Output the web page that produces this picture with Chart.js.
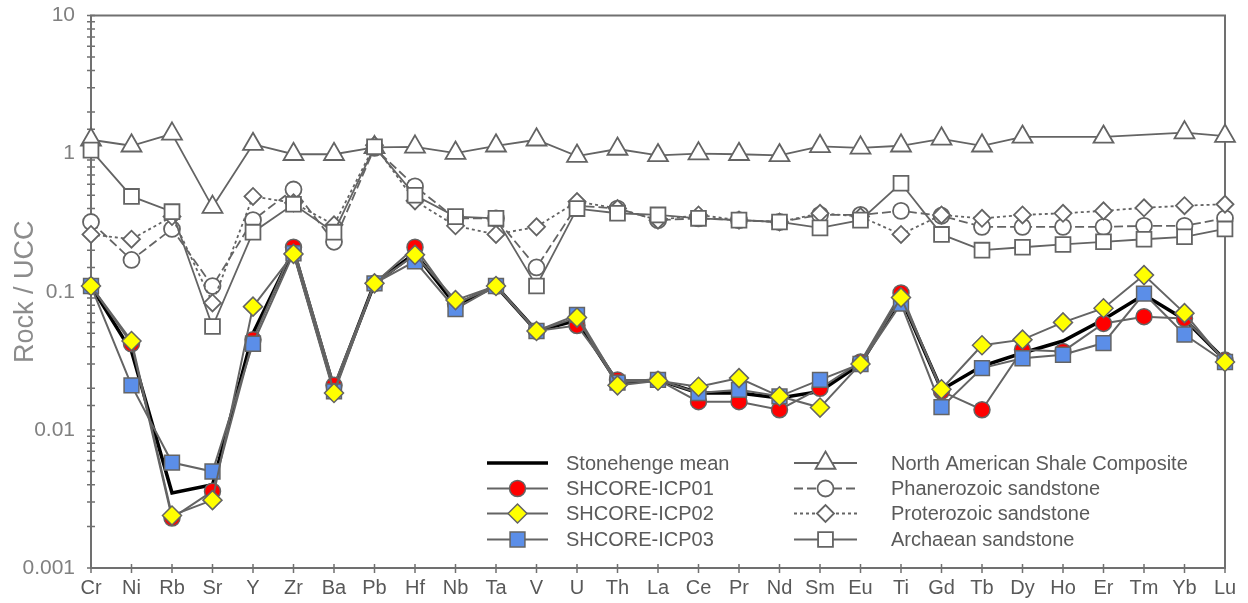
<!DOCTYPE html>
<html>
<head>
<meta charset="utf-8">
<title>Rock / UCC</title>
<script src="https://cdn.jsdelivr.net/npm/chart.js@4.4.1/dist/chart.umd.min.js"></script>
<style>
    html, body { margin: 0; padding: 0; background: #fff; }
    #wrap { width: 1248px; height: 603px; position: relative; }
</style>
</head>
<body>
<div id="wrap"><canvas id="myChart"></canvas></div>
<script>
// element order along the x axis
const elements = ['Cr','Ni','Rb','Sr','Y','Zr','Ba','Pb','Hf','Nb','Ta','V','U','Th','La','Ce','Pr','Nd','Sm','Eu','Ti','Gd','Tb','Dy','Ho','Er','Tm','Yb','Lu'];

// y axis labelled decades
const yTickLabels = [0.001, 0.01, 0.1, 1, 10];

// samples (normalised to UCC)
const stonehengeMean = [0.11, 0.037, 0.0035, 0.0040, 0.050, 0.20, 0.020, 0.115, 0.19, 0.080, 0.11, 0.052, 0.062, 0.022, 0.023, 0.0185, 0.0185, 0.0170, 0.019, 0.030, 0.090, 0.0195, 0.029, 0.036, 0.044, 0.063, 0.095, 0.063, 0.032];
const shcoreIcp01 = [0.11, 0.042, 0.0023, 0.0036, 0.045, 0.21, 0.021, 0.115, 0.21, 0.082, 0.11, 0.052, 0.057, 0.023, 0.023, 0.016, 0.016, 0.014, 0.020, 0.031, 0.098, 0.019, 0.014, 0.038, 0.037, 0.059, 0.066, 0.064, 0.032];
const shcoreIcp02 = [0.11, 0.044, 0.0024, 0.0031, 0.078, 0.188, 0.0185, 0.115, 0.185, 0.087, 0.11, 0.052, 0.065, 0.021, 0.0227, 0.0205, 0.0237, 0.0175, 0.0145, 0.030, 0.091, 0.0197, 0.041, 0.045, 0.060, 0.076, 0.132, 0.070, 0.031];
const shcoreIcp03 = [0.11, 0.021, 0.0058, 0.0050, 0.042, 0.19, 0.019, 0.115, 0.166, 0.075, 0.11, 0.052, 0.068, 0.022, 0.023, 0.0185, 0.0195, 0.0175, 0.023, 0.030, 0.082, 0.0146, 0.028, 0.033, 0.035, 0.0425, 0.097, 0.049, 0.031];

// reference compositions
const nasc = [1.26, 1.14, 1.39, 0.41, 1.17, 0.99, 0.99, 1.11, 1.12, 1.01, 1.14, 1.26, 0.96, 1.08, 0.97, 1.00, 0.99, 0.97, 1.13, 1.10, 1.14, 1.28, 1.14, 1.32, null, 1.32, null, 1.42, 1.34];
const phanerozoic = [0.32, 0.17, 0.285, 0.11, 0.33, 0.55, 0.23, 1.10, 0.58, 0.34, 0.34, 0.15, 0.42, 0.40, 0.33, 0.34, 0.33, 0.32, 0.36, 0.36, 0.385, 0.355, 0.295, 0.295, 0.295, 0.295, 0.30, 0.30, 0.34];
const proterozoic = [0.26, 0.24, 0.35, 0.083, 0.49, 0.44, 0.305, 1.15, 0.455, 0.30, 0.26, 0.295, 0.45, 0.40, 0.33, 0.36, 0.33, 0.32, 0.37, 0.35, 0.26, 0.36, 0.34, 0.36, 0.37, 0.385, 0.405, 0.42, 0.43];
const archaean = [1.06, 0.49, 0.38, 0.056, 0.27, 0.43, 0.27, 1.12, 0.50, 0.35, 0.34, 0.11, 0.40, 0.37, 0.36, 0.34, 0.33, 0.32, 0.29, 0.33, 0.61, 0.26, 0.20, 0.21, 0.22, 0.23, 0.24, 0.25, 0.285];

const FONT = '"Liberation Sans", Arial, sans-serif';
const GREY = '#707070';
const LINE = '#646464';

// custom legend, two columns inside the plot area
const legendBox = {
    id: 'legendBox',
    afterDraw(chart) {
        const ctx = chart.ctx;
        const cols = [
            { line: [487, 548], text: 566, labels: ['Stonehenge mean','SHCORE-ICP01','SHCORE-ICP02','SHCORE-ICP03'] },
            { line: [794, 857], text: 891, labels: ['North American Shale Composite','Phanerozoic sandstone','Proterozoic sandstone','Archaean sandstone'] }
        ];
        const rows = [463, 488.5, 513.5, 539.5];
        ctx.save();
        ctx.font = '20px ' + FONT;
        ctx.textBaseline = 'middle';
        cols.forEach((col) => {
            col.labels.forEach((label, r) => {
                const ds = chart.data.datasets.find(d => d.label === label);
                const y = rows[r];
                ctx.strokeStyle = ds.borderColor;
                ctx.lineWidth = ds.borderWidth;
                ctx.setLineDash(ds.borderDash || []);
                ctx.beginPath();
                ctx.moveTo(col.line[0], y);
                ctx.lineTo(col.line[1], y);
                ctx.stroke();
                ctx.setLineDash([]);
                if (ds.pointRadius > 0) {
                    ctx.fillStyle = ds.pointBackgroundColor;
                    ctx.strokeStyle = ds.pointBorderColor;
                    ctx.lineWidth = ds.pointBorderWidth;
                    Chart.helpers.drawPoint(ctx, {
                        pointStyle: ds.pointStyle,
                        radius: ds.pointRadius,
                        rotation: 0,
                        borderWidth: ds.pointBorderWidth
                    }, (col.line[0] + col.line[1]) / 2, y);
                }
                ctx.fillStyle = '#5a5a5a';
                ctx.fillText(label, col.text, y + 1);
            })
        });
        ctx.restore();
    }
};

// frame and tick marks crossing the axes
const frame = {
    id: 'frame',
    beforeDatasetsDraw(chart) {
        const { ctx, chartArea: a, scales } = chart;
        ctx.save();
        ctx.strokeStyle = GREY;
        ctx.lineWidth = 2;
        ctx.strokeRect(a.left, a.top, a.right - a.left, a.bottom - a.top);
        ctx.lineWidth = 1.5;
        ctx.beginPath();
        scales.x.ticks.forEach((t, i) => {
            const x = scales.x.getPixelForTick(i);
            ctx.moveTo(x, a.bottom - 4);
            ctx.lineTo(x, a.bottom + 5);
        });
        scales.y.ticks.forEach((t) => {
            const y = scales.y.getPixelForValue(t.value);
            ctx.moveTo(a.left - 4, y);
            ctx.lineTo(a.left + 4, y);
        });
        ctx.stroke();
        ctx.restore();
    }
};

function sample(label, data, order, style, fill, radius) {
    return {
        label: label,
        data: data,
        order: order,
        borderColor: LINE,
        borderWidth: 2,
        pointStyle: style,
        pointRadius: radius,
        pointHoverRadius: radius,
        pointBackgroundColor: fill,
        pointBorderColor: LINE,
        pointBorderWidth: 1.5,
        tension: 0
    };
}

function reference(label, data, order, style, dash, radius) {
    return {
        label: label,
        data: data,
        order: order,
        borderColor: LINE,
        borderWidth: 1.8,
        borderDash: dash,
        pointStyle: style,
        pointRadius: radius,
        pointHoverRadius: radius,
        pointBackgroundColor: '#ffffff',
        pointBorderColor: LINE,
        pointBorderWidth: 1.8,
        spanGaps: true,
        tension: 0
    };
}

const datasets = [
    sample('SHCORE-ICP02', shcoreIcp02, 1, 'rectRot', '#ffff00', 9.5),
    sample('SHCORE-ICP03', shcoreIcp03, 2, 'rect', '#5b8ee8', 10.5),
    sample('SHCORE-ICP01', shcoreIcp01, 3, 'circle', '#ff0000', 8),
    {
        label: 'Stonehenge mean',
        data: stonehengeMean,
        order: 4,
        borderColor: '#000000',
        borderWidth: 3.5,
        pointRadius: 0,
        tension: 0
    },
    reference('Archaean sandstone', archaean, 5, 'rect', [], 10.5),
    reference('Proterozoic sandstone', proterozoic, 6, 'rectRot', [3, 3], 8.5),
    reference('Phanerozoic sandstone', phanerozoic, 7, 'circle', [9, 4], 8),
    reference('North American Shale Composite', nasc, 8, 'triangle', [], 11.5)
];

const ctx = document.getElementById('myChart').getContext('2d');
new Chart(ctx, {
    type: 'line',
    data: { labels: elements, datasets: datasets },
    options: {
        responsive: true,
        maintainAspectRatio: false,
        animation: false,
        layout: { padding: { top: 15.5, right: 23, left: 0, bottom: 0 } },
        plugins: {
            legend: { display: false },
            tooltip: { enabled: false }
        },
        scales: {
            x: {
                type: 'category',
                offset: false,
                grid: { display: false, drawTicks: false },
                border: { display: false },
                ticks: {
                    autoSkip: false,
                    maxRotation: 0,
                    padding: 8,
                    color: '#595959',
                    font: { family: FONT, size: 20 }
                },
                afterFit(scale) {
                    scale.height = 35;
                    scale.paddingLeft = 0;
                    scale.paddingRight = 0;
                }
            },
            y: {
                type: 'logarithmic',
                min: 0.001,
                max: 10,
                grid: { display: false, drawTicks: false },
                border: { display: false },
                title: {
                    display: true,
                    text: 'Rock / UCC',
                    color: '#8c8c8c',
                    padding: { top: 9, bottom: 0 },
                    font: { family: FONT, size: 27 }
                },
                ticks: {
                    autoSkip: false,
                    padding: 16,
                    color: '#808080',
                    font: { family: FONT, size: 21 },
                    callback(v) {
                        const hit = yTickLabels.find(t => Math.abs(Math.log10(t) - Math.log10(v)) < 1e-6);
                        return hit === undefined ? '' : String(hit);
                    }
                },
                afterFit(scale) {
                    scale.width = 91;
                    scale.paddingTop = 0;
                    scale.paddingBottom = 0;
                }
            }
        }
    },
    plugins: [frame, legendBox]
});
</script>
</body>
</html>
